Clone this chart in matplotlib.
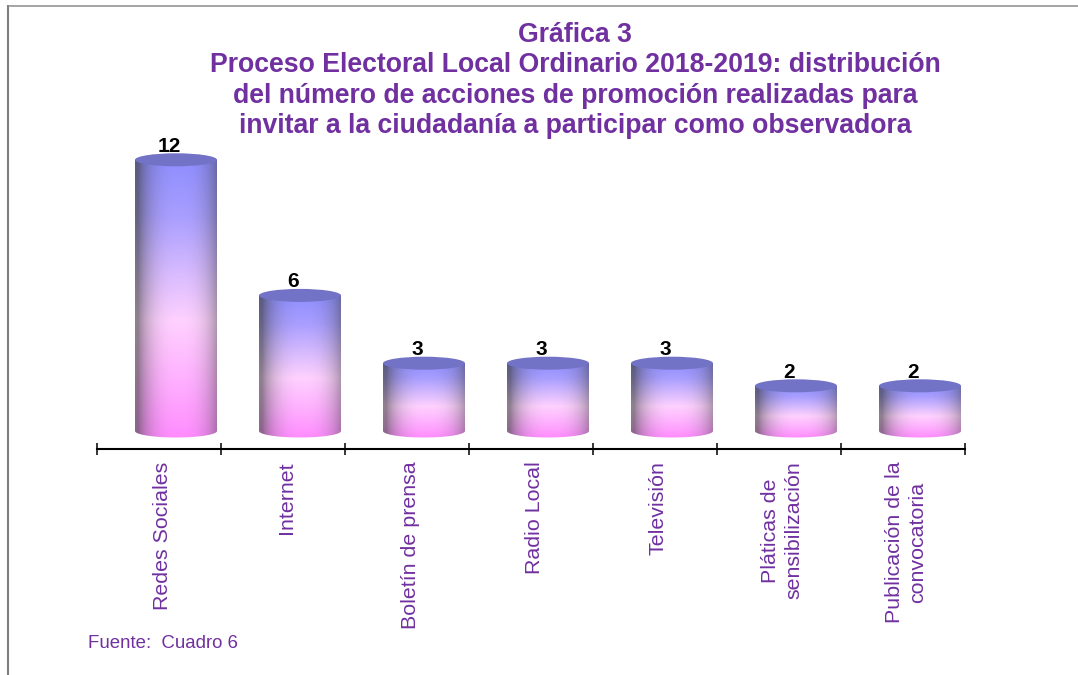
import numpy as np
import matplotlib
matplotlib.use("Agg")
import matplotlib.pyplot as plt
from matplotlib.patches import Ellipse, PathPatch
from matplotlib.path import Path
from matplotlib.lines import Line2D
from matplotlib.transforms import ScaledTranslation

categories = ["Redes Sociales", "Internet", "Boletín de prensa", "Radio Local",
              "Televisión", "Pláticas de\nsensibilización", "Publicación de la\nconvocatoria"]
values = [12, 6, 3, 3, 3, 2, 2]
title = ("Gráfica 3\nProceso Electoral Local Ordinario 2018-2019: distribución\n"
         "del número de acciones de promoción realizadas para\n"
         "invitar a la ciudadanía a participar como observadora")
source = "Fuente:  Cuadro 6"

W, H = 1078, 675
PURPLE = "#7030A0"
plt.rcParams["font.family"] = ["Liberation Sans", "DejaVu Sans"]
fig = plt.figure(figsize=(W / 100, H / 100), dpi=100)
fig.patch.set_facecolor("white")

L, R, AXB, AXT = 97, 965, 449, 100
BASE, UNIT = 431, 22.6
ax = fig.add_axes([L / W, 1 - AXB / H, (R - L) / W, (AXB - AXT) / H])
ax.patch.set_alpha(0)
for s in ("top", "left", "right"):
    ax.spines[s].set_visible(False)
ax.spines["bottom"].set_linewidth(1.5)
ax.spines["bottom"].set_color("black")
ax.set_yticks([])
ax.set_xticks(range(len(categories)))
ax.set_xticklabels(categories, rotation=90, color=PURPLE, fontsize=15.4, linespacing=1.28,
                   ha="center", va="top", multialignment="center")
ax.tick_params(axis="x", which="major", length=0, pad=9)
ax.set_xticks(np.arange(-0.5, 7, 1), minor=True)
ax.tick_params(axis="x", which="minor", length=9, width=1.1, direction="inout", color="black")
for lab in ax.get_xticklabels():
    lab.set_transform(lab.get_transform() + ScaledTranslation(3.5 / 100, 0, fig.dpi_scale_trans))

OFFSET = 17 / 124
BW = 82 / 124
EH = 13 / UNIT

pos = np.array([0.0, 0.20, 0.42, 0.58, 0.78, 1.0])
rgb = np.array([[0.56, 0.56, 1.00], [0.66, 0.62, 1.00], [0.86, 0.74, 1.00],
                [1.00, 0.82, 1.00], [1.00, 0.70, 1.00], [1.00, 0.55, 1.00]])

ny, nx = 200, 120
yy = np.linspace(0, 1, ny)
xx = np.linspace(-1, 1, nx)
for i, v in enumerate(values):
    cx = i + OFFSET
    x0, x1 = cx - BW / 2, cx + BW / 2
    grad = np.stack([np.interp(yy, pos, rgb[:, c]) for c in range(3)], axis=1)[:, None, :]
    shade = np.clip(1 - np.abs(xx - 0.08) ** 2.6, 0, 1) ** 0.8
    s = shade[None, :, None]
    gray = grad.mean(axis=2, keepdims=True)
    edge = (0.65 * grad + 0.35 * gray) * 0.58
    img = np.clip(grad * s + edge * (1 - s), 0, 1)
    im = ax.imshow(img, extent=[x0, x1, -EH / 2, v], origin="upper", aspect="auto",
                   interpolation="bilinear", zorder=2)
    t = np.linspace(np.pi, 2 * np.pi, 40)
    bx = cx + BW / 2 * np.cos(t)
    by = EH / 2 * np.sin(t)
    verts = np.vstack([[x0, v], np.column_stack([bx, by]), [x1, v], [x0, v]])
    codes = [Path.MOVETO] + [Path.LINETO] * (len(verts) - 2) + [Path.CLOSEPOLY]
    clip = PathPatch(Path(verts, codes), transform=ax.transData, fc="none", ec="none")
    ax.add_patch(clip)
    im.set_clip_path(clip)
    ax.add_patch(Ellipse((cx, v), BW, EH, fc="#7272C6", ec="none", zorder=3))
    ax.text(cx - 7 / 124, v + EH / 2 - 2.5 / UNIT, str(v), ha="center", va="bottom",
            fontsize=15, fontweight="bold", color="black", zorder=4)

ax.set_xlim(-0.5, 6.5)
ax.set_ylim(-(AXB - BASE) / UNIT, (BASE - AXT) / UNIT)

fig.text(575 / W, 1 - 80.5 / H, title, ha="center", va="center", color=PURPLE,
         fontsize=19.2, fontweight="bold", linespacing=1.21, multialignment="center")
fig.text(88 / W, 1 - 643 / H, source, ha="left", va="center", color=PURPLE, fontsize=13.4)

fig.add_artist(Line2D([8 / W, 8 / W], [0, 1 - 5 / H], color="#7F7F7F", lw=1.5, solid_capstyle="butt"))
fig.add_artist(Line2D([7.5 / W, 1], [1 - 5.5 / H, 1 - 5.5 / H], color="#8C8C8C", lw=1.1, solid_capstyle="butt"))

fig.savefig("out.png", dpi=100)
